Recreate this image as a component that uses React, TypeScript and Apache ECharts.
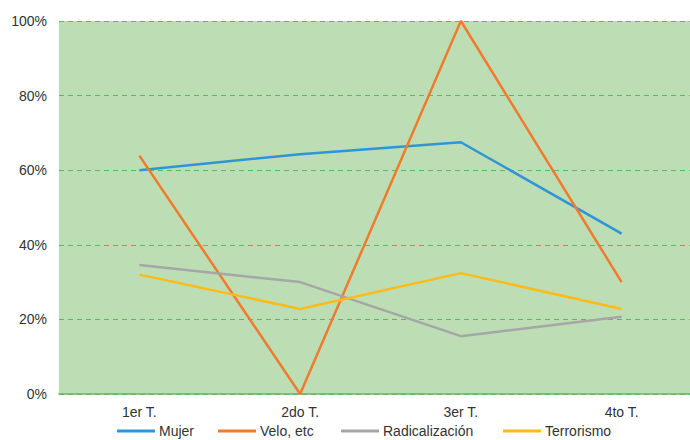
import React, { useEffect, useRef } from "react";
import * as echarts from "echarts";

const categories = ["1er T.", "2do T.", "3er T.", "4to T."];
const mujer = [60, 64.3, 67.5, 43];
const velo = [63.9, 0, 100, 30];
const radicalizacion = [34.6, 30, 15.5, 20.7];
const terrorismo = [32, 22.8, 32.4, 22.8];
const yTicks = [0, 20, 40, 60, 80, 100];
const legendNames = ["Mujer", "Velo, etc", "Radicalización", "Terrorismo"];
const legendLeft = [112, 213, 336, 498];

export default function App() {
  const ref = useRef<HTMLDivElement>(null);
  useEffect(() => {
    document.body.style.margin = "0";
    document.body.style.overflow = "hidden";
    const chart = echarts.init(ref.current!, null, { renderer: "svg" });
    const mk = (name: string, data: number[], color: string) => ({
      name,
      type: "line",
      data,
      showSymbol: false,
      symbol: "none",
      lineStyle: { color, width: 2.5 },
      itemStyle: { color },
    });
    chart.setOption({
      animation: false,
      textStyle: { fontFamily: "Liberation Sans, Arial, sans-serif" },
      grid: { left: 59, top: 21, right: 0, bottom: 46, backgroundColor: "#bddeb4", show: true, borderWidth: 0 },
      xAxis: {
        type: "category",
        data: categories,
        boundaryGap: true,
        axisLine: { lineStyle: { color: "#5cb85c", width: 1.5 } },
        axisTick: { show: false },
        axisLabel: { color: "#333", fontSize: 14, margin: 11 },
      },
      yAxis: {
        type: "value",
        min: yTicks[0],
        max: yTicks[yTicks.length - 1],
        interval: 20,
        axisLine: { show: false },
        axisTick: { show: false },
        axisLabel: { color: "#333", fontSize: 14, margin: 12, formatter: "{value}%" },
        splitLine: { lineStyle: { color: "#5cb85c", type: [5, 4], width: 1 } },
      },
      legend: legendNames.map((n, i) => ({
        left: legendLeft[i],
        top: 419,
        itemWidth: 38,
        itemHeight: 3,
        icon: "rect",
        textStyle: { color: "#333", fontSize: 14, padding: [0, 0, 0, -1] },
        data: [n],
      })),
      series: [
        mk("Mujer", mujer, "#2e96d6"),
        mk("Velo, etc", velo, "#f07b2c"),
        mk("Radicalización", radicalizacion, "#a6a6a6"),
        mk("Terrorismo", terrorismo, "#fdbb17"),
      ],
    });
    return () => chart.dispose();
  }, []);
  return <div ref={ref} style={{ width: 702, height: 440 }} />;
}
